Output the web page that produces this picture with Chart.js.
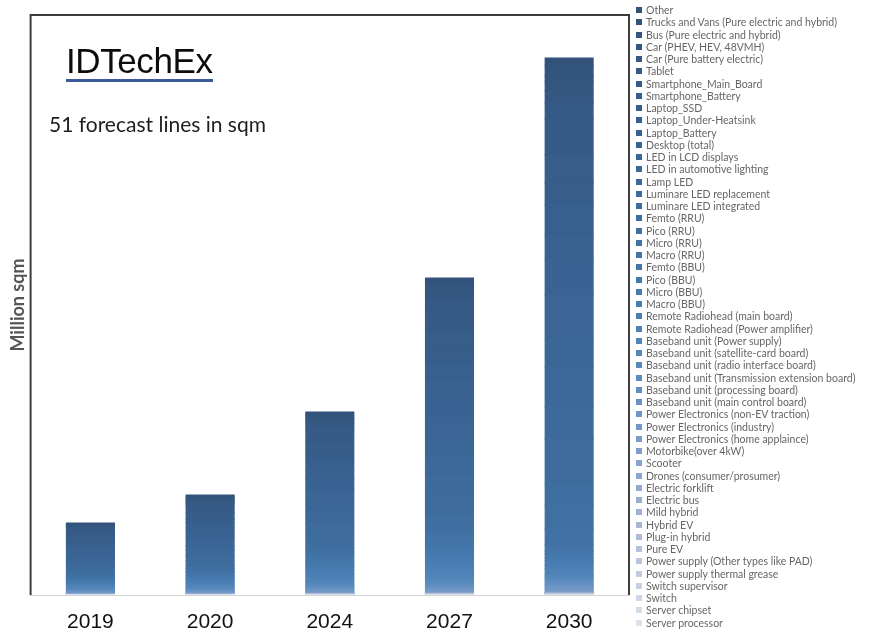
<!DOCTYPE html>
<html>
<head>
<meta charset="utf-8">
<title>51 forecast lines in sqm</title>
<script src="https://cdn.jsdelivr.net/npm/chart.js@4.4.0/dist/chart.umd.min.js"></script>
<style>
  html, body { margin: 0; padding: 0; background: #fff; }
  #wrap { position: relative; width: 872px; height: 630px; overflow: hidden; }
  #chart { position: absolute; left: 0; top: 0; }
  .logo {
    position: absolute; left: 66px; top: 43px;
    font: 35px "Liberation Sans", Arial, sans-serif; letter-spacing: -0.4px;
    line-height: 36px; color: #0c0c0c;
    border-bottom: 3px solid #3b5a9c;
  }
  .note { position: absolute; left: 49px; top: 111px; font: 21px Lato, sans-serif; color: #1e1e1e; }
  #legend { position: absolute; left: 636px; top: 4px; margin: 0; padding: 0; list-style: none; font: 10.5px Lato, sans-serif; color: #666; }
  #legend li { height: 12.26px; display: flex; align-items: center; white-space: nowrap; }
  #legend .box { width: 6px; height: 6px; margin-right: 4px; flex: none; }
</style>
</head>
<body>
<div id="wrap">
  <canvas id="chart" width="872" height="630"></canvas>
  <div class="logo">IDTechEx</div>
  <div class="note">51 forecast lines in sqm</div>
  <ul id="legend"></ul>
</div>
<script>
// years on the x axis
const years = ['2019', '2020', '2024', '2027', '2030'];

// forecast lines, listed top of the stack first
const lines = [
  'Other',
  'Trucks and Vans (Pure electric and hybrid)',
  'Bus (Pure electric and hybrid)',
  'Car (PHEV, HEV, 48VMH)',
  'Car (Pure battery electric)',
  'Tablet',
  'Smartphone_Main_Board',
  'Smartphone_Battery',
  'Laptop_SSD',
  'Laptop_Under-Heatsink',
  'Laptop_Battery',
  'Desktop (total)',
  'LED in LCD displays',
  'LED in automotive lighting',
  'Lamp LED',
  'Luminare LED replacement',
  'Luminare LED integrated',
  'Femto (RRU)',
  'Pico (RRU)',
  'Micro (RRU)',
  'Macro (RRU)',
  'Femto (BBU)',
  'Pico (BBU)',
  'Micro (BBU)',
  'Macro (BBU)',
  'Remote Radiohead (main board)',
  'Remote Radiohead (Power amplifier)',
  'Baseband unit (Power supply)',
  'Baseband unit (satellite-card board)',
  'Baseband unit (radio interface board)',
  'Baseband unit (Transmission extension board)',
  'Baseband unit (processing board)',
  'Baseband unit (main control board)',
  'Power Electronics (non-EV traction)',
  'Power Electronics (industry)',
  'Power Electronics (home applaince)',
  'Motorbike(over 4kW)',
  'Scooter',
  'Drones (consumer/prosumer)',
  'Electric forklift',
  'Electric bus',
  'Mild hybrid',
  'Hybrid EV',
  'Plug-in hybrid',
  'Pure EV',
  'Power supply (Other types like PAD)',
  'Power supply thermal grease',
  'Switch supervisor',
  'Switch',
  'Server chipset',
  'Server processor'
];

// Million sqm per line, same order as `lines`
const v2019 = [0.15, 0.1, 0.1, 0.05, 0.1,
  0.25, 0.5, 0.45, 0.3, 0.35, 0.3, 0.45, 0.6, 0.25, 0.4, 0.35, 0.35, 0.15, 0.15, 0.15,
  0.2, 0.1, 0.1, 0.1, 0.15, 0.1, 0.15, 0.15, 0.075, 0.075,
  0.08, 0.09, 0.06, 0.08, 0.06, 0.05,
  0.005, 0.005, 0.005, 0.005, 0.01, 0.005, 0.005, 0.005, 0.005, 0.005, 0.005, 0.005, 0.005, 0.005, 0.005];
const v2020 = [0.2, 0.2, 0.1, 0.15, 0.15,
  0.3, 0.7, 0.6, 0.4, 0.5, 0.4, 0.6, 0.8, 0.4, 0.6, 0.5, 0.5, 0.25, 0.25, 0.2,
  0.25, 0.15, 0.15, 0.15, 0.2, 0.15, 0.2, 0.15, 0.1, 0.1,
  0.1, 0.1, 0.08, 0.1, 0.07, 0.05,
  0.01, 0.005, 0.005, 0.01, 0.005, 0.005, 0.01, 0.005, 0.005, 0.01, 0.005, 0.005, 0.01, 0.005, 0.005];
const v2024 = [0.3, 0.3, 0.2, 0.3, 0.3,
  0.5, 1.2, 1.0, 0.8, 1.0, 0.8, 1.1, 1.4, 0.8, 1.2, 1.0, 1.0, 0.4, 0.4, 0.4,
  0.5, 0.3, 0.3, 0.3, 0.4, 0.3, 0.4, 0.2, 0.15, 0.15,
  0.14, 0.16, 0.1, 0.14, 0.12, 0.09,
  0.01, 0.01, 0.01, 0.01, 0.01, 0.01, 0.01, 0.01, 0.01, 0.01, 0.01, 0.01, 0.01, 0.01, 0.01];
const v2027 = [0.5, 0.5, 0.3, 0.5, 0.6,
  0.8, 2.2, 1.8, 1.4, 1.8, 1.5, 2.0, 2.4, 1.6, 2.0, 1.8, 2.0, 0.8, 0.8, 0.7,
  0.8, 0.4, 0.5, 0.4, 0.5, 0.5, 0.6, 0.3, 0.2, 0.3,
  0.18, 0.2, 0.14, 0.2, 0.16, 0.12,
  0.02, 0.01, 0.01, 0.02, 0.01, 0.01, 0.02, 0.01, 0.01, 0.02, 0.01, 0.01, 0.01, 0.02, 0.01];
const v2030 = [0.8, 1.0, 0.6, 0.9, 1.2,
  1.6, 3.6, 2.8, 2.2, 3.0, 2.4, 3.6, 4.4, 2.8, 4.0, 3.2, 4.6, 2.0, 2.4, 1.6,
  0.6, 0.3, 0.4, 0.3, 0.4, 0.4, 0.5, 0.2, 0.2, 0.2,
  0.22, 0.26, 0.18, 0.24, 0.2, 0.14,
  0.02, 0.02, 0.01, 0.02, 0.02, 0.02, 0.02, 0.02, 0.02, 0.02, 0.01, 0.01, 0.01, 0.02, 0.02];

const byYear = [v2019, v2020, v2024, v2027, v2030];

// monochrome blue ramp, dark at the top of the stack, pale at the bottom
const shadeStops = [
  [0, [50, 82, 122]],
  [6, [54, 91, 135]],
  [12, [58, 101, 148]],
  [18, [64, 112, 162]],
  [24, [72, 124, 178]],
  [30, [90, 140, 190]],
  [36, [128, 158, 204]],
  [42, [166, 182, 212]],
  [50, [220, 225, 236]]
];

function shade(i) {
  for (let k = 0; k < shadeStops.length - 1; k++) {
    const [i0, c0] = shadeStops[k];
    const [i1, c1] = shadeStops[k + 1];
    if (i >= i0 && i <= i1) {
      const t = (i - i0) / (i1 - i0);
      const c = c0.map((v, j) => Math.round(v + (c1[j] - v) * t));
      return `rgb(${c[0]}, ${c[1]}, ${c[2]})`;
    }
  }
  return 'rgb(220, 225, 236)';
}

// first dataset sits at the bottom of each stack
const datasets = [];
for (let i = lines.length - 1; i >= 0; i--) {
  datasets.push({
    label: lines[i],
    data: byYear.map(arr => arr[i]),
    backgroundColor: shade(i),
    borderWidth: 0,
    inflateAmount: 0.6,
    categoryPercentage: 1,
    barPercentage: 0.4
  });
}

// legend list, same order as the lines array
const legendEl = document.getElementById('legend');
lines.forEach((name, i) => {
  const li = document.createElement('li');
  const box = document.createElement('span');
  box.className = 'box';
  box.style.background = shade(i);
  li.appendChild(box);
  li.appendChild(document.createTextNode(name));
  legendEl.appendChild(li);
});

// dark frame on the left, top and right of the plot area
const frame = {
  id: 'frame',
  afterDraw(chart) {
    const { ctx, chartArea: a } = chart;
    ctx.save();
    ctx.strokeStyle = '#3c3c3c';
    ctx.lineWidth = 2;
    ctx.beginPath();
    ctx.moveTo(a.left, a.bottom);
    ctx.lineTo(a.left, a.top);
    ctx.lineTo(a.right, a.top);
    ctx.lineTo(a.right, a.bottom);
    ctx.stroke();
    ctx.restore();
  }
};

new Chart(document.getElementById('chart'), {
  type: 'bar',
  data: { labels: years, datasets },
  plugins: [frame],
  options: {
    responsive: false,
    animation: false,
    layout: { padding: { left: 3, top: 15, right: 243, bottom: 0 } },
    plugins: {
      legend: { display: false },
      tooltip: { enabled: false }
    },
    scales: {
      x: {
        stacked: true,
        grid: { display: false, drawTicks: false },
        border: { display: true, color: '#d4d4d4', width: 1 },
        ticks: { color: '#111', padding: 15, font: { family: 'Liberation Sans', size: 21 } },
        afterFit: (scale) => { scale.height = 35; }
      },
      y: {
        stacked: true,
        min: 0,
        max: 58,
        grid: { display: false, drawTicks: false },
        border: { display: false },
        ticks: { display: false },
        title: {
          display: true,
          text: 'Million sqm',
          color: '#555',
          font: { family: 'Lato', size: 18, weight: 'bold' },
          padding: { top: 4, bottom: 2 }
        }
      }
    }
  }
});
</script>
</body>
</html>
